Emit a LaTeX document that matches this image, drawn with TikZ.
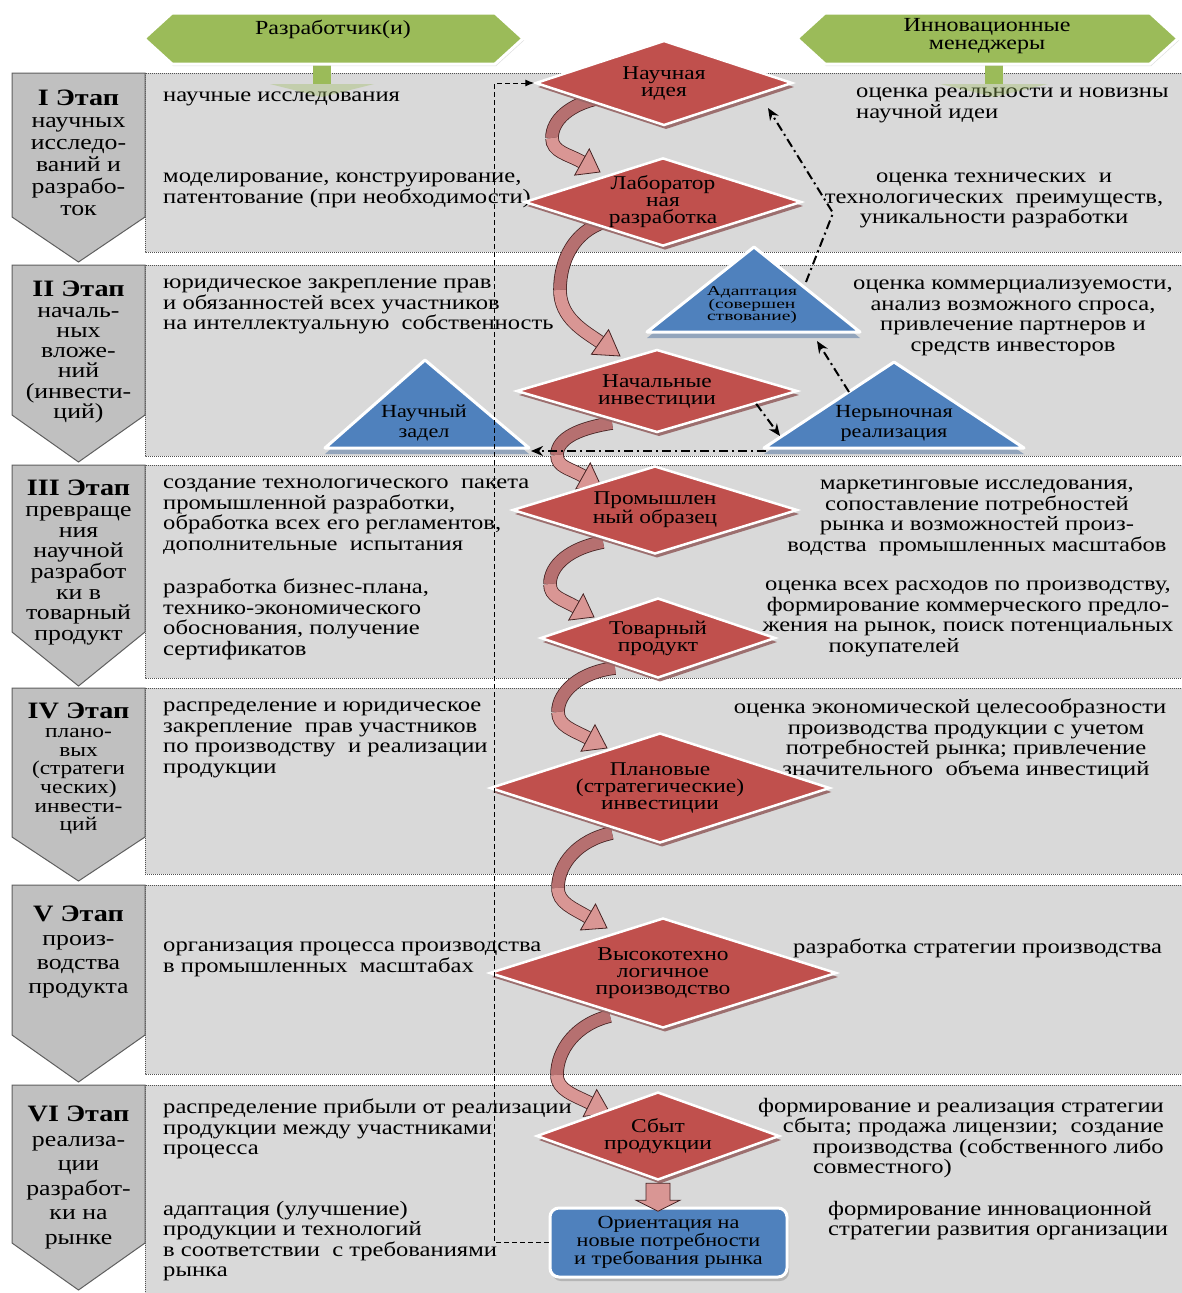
\documentclass[tikz,border=0pt]{standalone}
\usepackage{fontspec}
\setmainfont{Liberation Serif}[FakeStretch=1.2]
\newfontfamily\tinyserif{Liberation Serif}[FakeStretch=1.45]
\usetikzlibrary{shapes.geometric,arrows.meta,calc,shadows}

\newcommand\txtfnt{\fontsize{20.5}{20.5}\selectfont}
\newcommand\ttlfnt{\fontsize{23.5}{21.5}\selectfont\bfseries}
\newcommand\diafnt{\fontsize{19.5}{17}\selectfont}
\newcommand\trifnt{\fontsize{18.5}{20}\selectfont}
\newcommand\adafnt{\tinyserif\fontsize{13.5}{12.5}\selectfont}

\tikzset{
  band/.style={draw={rgb, 255:red, 80; green, 80; blue, 80}, line width=1pt, dash pattern=on 1pt off 1pt, fill={rgb, 255:red, 217; green, 217; blue, 217}},
  stagebox/.style={draw={rgb, 255:red, 95; green, 95; blue, 95}, line width=1pt, fill={rgb, 255:red, 192; green, 192; blue, 192}},
  stagetxt/.style={anchor=north, align=center, inner sep=0pt, execute at begin node=\strut},
  lefttxt/.style={anchor=north west, align=left, inner sep=0pt, font=\txtfnt, execute at begin node=\strut},
  midtxt/.style={lefttxt, anchor=north, align=center},
  righttxt/.style={lefttxt, anchor=north east, align=right},
  hexshape/.style={fill={rgb, 255:red, 155; green, 187; blue, 89}, draw=white, line width=3pt, drop shadow={shadow xshift=1pt, shadow yshift=-2pt, opacity=0.25}},
  hextxt/.style={align=center, inner sep=0pt, font=\fontsize{20}{18}\selectfont},
  greenstem/.style={fill={rgb, 255:red, 155; green, 187; blue, 89}},
  greenhead/.style={fill={rgb, 255:red, 155; green, 187; blue, 89}, fill opacity=0.35},
  reddiam/.style={diamond, aspect=3, inner sep=0pt, align=center, font=\diafnt, fill={rgb, 255:red, 192; green, 80; blue, 77}, draw=white, line width=2.5pt, drop shadow={shadow xshift=2pt, shadow yshift=-4pt, fill={rgb, 255:red, 150; green, 100; blue, 100}, opacity=0.9}},
  bluetri/.style={fill={rgb, 255:red, 79; green, 129; blue, 189}, draw=white, line width=3pt, line join=round, drop shadow={shadow xshift=0pt, shadow yshift=-6pt, fill={rgb, 255:red, 140; green, 160; blue, 185}, opacity=0.9}},
  tritxt/.style={align=center, inner sep=0pt, font=\trifnt},
  bluebox/.style={rectangle, rounded corners=9pt, minimum width=237pt, minimum height=69pt, inner sep=0pt, align=center, font=\fontsize{18.5}{17}\selectfont, fill={rgb, 255:red, 79; green, 129; blue, 189}, draw=white, line width=3pt, drop shadow={shadow xshift=2pt, shadow yshift=-4pt, opacity=0.4}},
  curvback/.style={draw={rgb, 255:red, 70; green, 35; blue, 35}, line width=0.8pt, double={rgb, 255:red, 182; green, 112; blue, 112}, double distance=12pt},
  curvfront/.style={draw={rgb, 255:red, 70; green, 35; blue, 35}, line width=0.8pt, double={rgb, 255:red, 217; green, 150; blue, 148}, double distance=12pt},
  curvhead/.style={draw={rgb, 255:red, 70; green, 35; blue, 35}, line width=0.8pt, fill={rgb, 255:red, 217; green, 150; blue, 148}},
  dashconn/.style={draw=black, line width=1pt, dash pattern=on 5pt off 3pt, -{Latex[length=9pt,width=7pt]}},
  dashdotarr/.style={draw=black, line width=2pt, dash pattern=on 9pt off 4pt on 2pt off 4pt, -{Stealth[length=12pt,width=10pt]}}
}

\begin{document}
\begin{tikzpicture}[x=1pt,y=1pt,yscale=-1,xscale=1]
\useasboundingbox (0,0) rectangle (1181,1293);
\fill[white] (0,0) rectangle (1181,1293);

%Stage bands and stage arrows
\foreach \ytop/\ybot/\ybody/\ytip in {73/252/217/262,265/456/415/462,465/678/632/686,688/874/837/881,885/1074/1035/1082,1085/1300/1243/1290}{
  \draw[band] (145,\ytop) rectangle (1190,\ybot);
  \draw[stagebox] (12,\ytop) -- (145,\ytop) -- (145,\ybody) -- (78.5,\ytip) -- (12,\ybody) -- cycle;
}

%Stage labels
\node[stagetxt, font=\fontsize{21.5}{22}\selectfont] (st1) at (78.5,90) {{\ttlfnt I Этап}\\научных\\исследо-\\ваний и\\разрабо-\\ток};
\node[stagetxt, font=\fontsize{21.5}{20.3}\selectfont] (st2) at (78.5,281) {{\ttlfnt II Этап}\\началь-\\ных\\вложе-\\ний\\(инвести-\\ций)};
\node[stagetxt, font=\fontsize{21.5}{20.7}\selectfont] (st3) at (78.5,480) {{\ttlfnt III Этап}\\превраще\\ния\\научной\\разработ\\ки в\\товарный\\продукт};
\node[stagetxt, font=\fontsize{19.5}{18.7}\selectfont] (st4) at (78.5,703) {{\ttlfnt IV Этап}\\плано-\\вых\\(стратеги\\ческих)\\инвести-\\ций};
\node[stagetxt, font=\fontsize{21.5}{24}\selectfont] (st5) at (78.5,906) {{\ttlfnt V Этап}\\произ-\\водства\\продукта};
\node[stagetxt, font=\fontsize{21.5}{24.5}\selectfont] (st6) at (78.5,1106) {{\ttlfnt VI Этап}\\реализа-\\ции\\разработ-\\ки на\\рынке};

%Developer side texts
\node[lefttxt] (t1a) at (163,87) {научные исследования};
\node[lefttxt] (t1b) at (163,173) {моделирование, конструирование,\\патентование (при необходимости)};
\node[lefttxt] (t2) at (163,279) {юридическое закрепление прав\\и обязанностей всех участников\\на интеллектуальную \ собственность};
\node[lefttxt] (t3a) at (163,479) {создание технологического \ пакета\\промышленной разработки,\\обработка всех его регламентов,\\дополнительные \ испытания};
\node[lefttxt] (t3b) at (163,579) {разработка бизнес-плана,\\технико-экономического\\обоснования, получение\\сертификатов};
\node[lefttxt] (t4) at (163,702) {распределение и юридическое\\закрепление \ прав участников\\по производству \ и реализации\\продукции};
\node[lefttxt] (t5) at (163,942) {организация процесса производства\\в промышленных \ масштабах};
\node[lefttxt] (t6a) at (163,1099) {распределение прибыли от реализации\\продукции между участниками\\процесса};
\node[lefttxt] (t6b) at (163,1201) {адаптация (улучшение)\\продукции и технологий\\в соответствии \ с требованиями\\рынка};

%Manager side texts
\node[lefttxt] (r1a) at (856,88) {оценка реальности и новизны\\научной идеи};
\node[midtxt] (r1b) at (994,173) {оценка технических \ и\\технологических \ преимуществ,\\уникальности разработки};
\node[midtxt] (r2) at (1013,280) {оценка коммерциализуемости,\\анализ возможного спроса,\\привлечение партнеров и\\средств инвесторов};
\node[midtxt] (r3a) at (977,480) {маркетинговые исследования,\\сопоставление потребностей\\рынка и возможностей произ-\\водства \ промышленных масштабов};
\node[midtxt] (r3b) at (968,581) {оценка всех расходов по производству,\\формирование коммерческого предло-\\жения на рынок, поиск потенциальных\\покупателей\hspace*{148pt}};
\node[midtxt] (r4) at (966,699) {оценка экономической целесообразности\hspace*{32pt}\\производства продукции с учетом\\потребностей рынка; привлечение\\значительного \ объема инвестиций};
\node[lefttxt] (r5) at (793,939) {разработка стратегии производства};
\node[righttxt] (r6a) at (1164,1098) {формирование и реализация стратегии\\сбыта; продажа лицензии; \ создание\\производства (собственного либо\\совместного)\hspace*{212pt}};
\node[lefttxt] (r6b) at (828,1201) {формирование инновационной\\стратегии развития организации};

%Participants
\fill[greenstem] (313,60) rectangle (331,84);
\fill[greenhead] (270,84) -- (374,84) -- (322,97) -- cycle;
\fill[greenstem] (985,60) rectangle (1003,84);
\fill[greenhead] (940,84) -- (1048,84) -- (994,97) -- cycle;
\draw[hexshape] (144,38.5) -- (172,13) -- (495,13) -- (523,38.5) -- (495,64) -- (172,64) -- cycle;
\draw[hexshape] (797,38.5) -- (825,13) -- (1150,13) -- (1178,38.5) -- (1150,64) -- (825,64) -- cycle;
\node[hextxt] (dev) at (333,29) {Разработчик(и)};
\node[hextxt] (mgr) at (987,36) {Инновационные\\менеджеры};

%Curved arrows between steps
\draw[curvback] (600,98) .. controls (570,104) and (552,120) .. (552,138);
\draw[curvfront] (552,138) .. controls (552,152) and (568,154) .. (582,162);
\filldraw[curvhead] ($(582,162)!15pt!90:(600,172)$) -- (600,172) -- ($(582,162)!15pt!-90:(600,172)$) -- cycle;

\draw[curvback] (604,222) .. controls (574,232) and (560,260) .. (560,290);
\draw[curvfront] (560,290) .. controls (560,318) and (584,331) .. (600,342);
\filldraw[curvhead] ($(600,342)!15pt!90:(620,356)$) -- (620,356) -- ($(600,342)!15pt!-90:(620,356)$) -- cycle;

\draw[curvback] (612,423) .. controls (580,428) and (557,438) .. (557,455);
\draw[curvfront] (557,455) .. controls (557,467) and (569,468) .. (583,476);
\filldraw[curvhead] ($(583,476)!15pt!90:(601,486)$) -- (601,486) -- ($(583,476)!15pt!-90:(601,486)$) -- cycle;

\draw[curvback] (603,542) .. controls (570,548) and (550,565) .. (550,584);
\draw[curvfront] (550,584) .. controls (550,597) and (562,599) .. (576,607);
\filldraw[curvhead] ($(576,607)!15pt!90:(594,617)$) -- (594,617) -- ($(576,607)!15pt!-90:(594,617)$) -- cycle;

\draw[curvback] (615,668) .. controls (580,672) and (558,692) .. (558,712);
\draw[curvfront] (558,712) .. controls (558,726) and (573,730) .. (588,738);
\filldraw[curvhead] ($(588,738)!15pt!90:(607,748)$) -- (607,748) -- ($(588,738)!15pt!-90:(607,748)$) -- cycle;

\draw[curvback] (612,833) .. controls (578,840) and (558,864) .. (558,888);
\draw[curvfront] (558,888) .. controls (558,903) and (573,908) .. (588,917);
\filldraw[curvhead] ($(588,917)!15pt!90:(607,928)$) -- (607,928) -- ($(588,917)!15pt!-90:(607,928)$) -- cycle;

\draw[curvback] (610,1016) .. controls (576,1024) and (557,1050) .. (557,1075);
\draw[curvfront] (557,1075) .. controls (557,1090) and (574,1095) .. (590,1103);
\filldraw[curvhead] ($(590,1103)!15pt!90:(610,1113)$) -- (610,1113) -- ($(590,1103)!15pt!-90:(610,1113)$) -- cycle;

%Steps
\node[reddiam, minimum width=257pt, minimum height=85pt] (idea) at (664,83) {Научная\\идея};
\node[reddiam, minimum width=277pt, minimum height=85pt] (lab) at (663,202) {Лаборатор\\ная\\разработка};
\node[reddiam, minimum width=281pt, minimum height=83pt] (invest) at (657,391) {Начальные\\инвестиции};
\node[reddiam, minimum width=285pt, minimum height=88pt] (sample) at (655,510) {Промышлен\\ный образец};
\node[reddiam, minimum width=235pt, minimum height=80pt] (product) at (658,638) {Товарный\\продукт};
\node[reddiam, minimum width=340pt, minimum height=110pt] (plan) at (660,788) {Плановые\\(стратегические)\\инвестиции};
\node[reddiam, minimum width=347pt, minimum height=110pt] (hitech) at (663,973) {Высокотехно\\логичное\\производство};
\node[reddiam, minimum width=243pt, minimum height=88pt] (sales) at (658,1136) {Сбыт\\продукции};
\node[bluebox] (ornt) at (668.5,1242.5) {Ориентация на\\новые потребности\\и требования рынка};

%Straight arrow: sales to orientation
\filldraw[curvhead] ($(sales.south)+(-12,2)$) -- ++(0,17) -- ++(-10,0) -- ($(sales.south)+(0,30)$) -- ($(sales.south)+(22,19)$) -- ++(-10,0) -- ++(0,-17) -- cycle;

%Side results
\draw[bluetri] (647,332) -- (754,247) -- (860,332) -- cycle;
\draw[bluetri] (325,448) -- (425,360) -- (529,448) -- cycle;
\draw[bluetri] (764,448) -- (894,362) -- (1024,448) -- cycle;
\node[tritxt, font=\adafnt] (adapt) at (752,305) {Адаптация\\(совершен\\ствование)};
\node[tritxt] (zadel) at (424,423) {Научный\\задел};
\node[tritxt] (nonmkt) at (894,423) {Нерыночная\\реализация};

%Connectors
\coordinate (nonmktL) at (849,392);
\coordinate (adaptB) at (817,341);
\coordinate (adaptR) at (806,282);
\coordinate (bend) at (833,213);
\coordinate (ideaB) at (768,108);
\coordinate (nonmktT) at (780,436);
\coordinate (nonmktBL) at (766,451);
\coordinate (zadelBR) at (531,451);
\draw[dashdotarr] (nonmktL) -- (adaptB);
\draw[dashdotarr] (adaptR) -- (bend) -- (ideaB);
\draw[dashdotarr] ($(invest.east)!0.3!(invest.south)$) -- (nonmktT);
\draw[dashdotarr] (nonmktBL) -- (zadelBR);
\draw[dashconn] (ornt.west) -- ++(-54,0) |- (idea.west);

\end{tikzpicture}
\end{document}
